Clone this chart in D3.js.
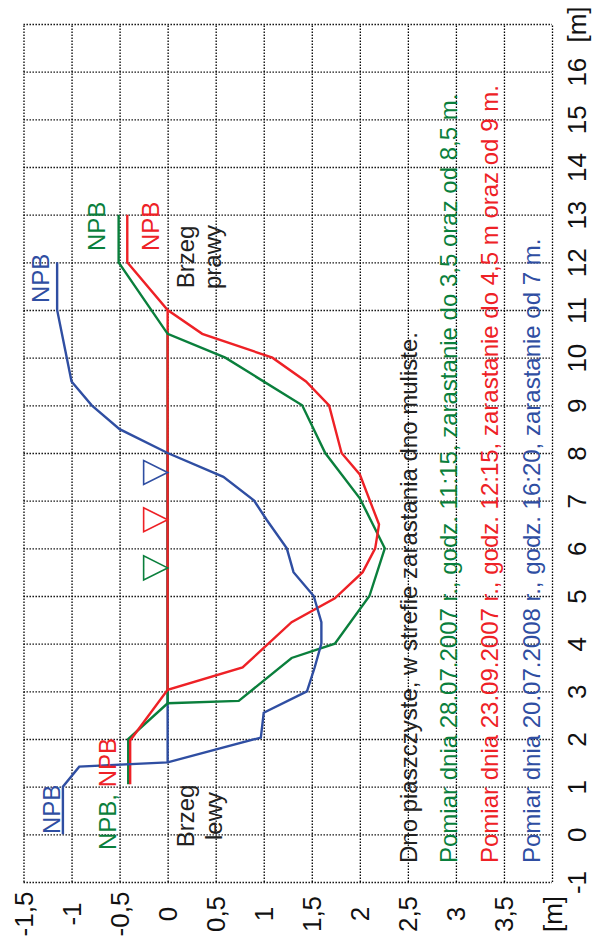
<!DOCTYPE html>
<html><head><meta charset="utf-8">
<script src="https://cdn.jsdelivr.net/npm/d3@7"></script>
<style>
body{margin:0;background:#fff}
svg{display:block}
text{font-family:"Liberation Sans",Arial,Helvetica,sans-serif}
</style>
</head><body>
<svg id="chart" width="593" height="947"></svg>
<script>
// ---- data ----
const depthTicks = [-1.5,-1,-0.5,0,0.5,1,1.5,2,2.5,3,3.5,4];
const depthLabels = ["-1,5","-1","-0,5","0","0,5","1","1,5","2","2,5","3","3,5","[m]"];
const distTicks = [-1,0,1,2,3,4,5,6,7,8,9,10,11,12,13,14,15,16,17];
const distLabels = ["-1","0","1","2","3","4","5","6","7","8","9","10","11","12","13","14","15","16","[m]"];

// profile 28.07.2007 (green)
const greenDist  = [13, 12, 10.5, 10.0, 9.0, 8.0, 7.05, 6.0, 5.0, 4.0, 3.7, 2.8, 2.75, 2.0, 1.05];
const greenDepth = [-0.51, -0.51, 0, 0.6, 1.4, 1.64, 2.0, 2.26, 2.1, 1.74, 1.29, 0.74, 0, -0.41, -0.41];
// profile 23.09.2007 (red)
const redDist  = [13, 12, 11.0, 10.5, 10.0, 9.5, 9.0, 8.0, 7.55, 6.5, 6.0, 5.5, 4.95, 4.45, 3.5, 3.03, 1.97, 1.05];
const redDepth = [-0.42, -0.42, 0, 0.36, 1.09, 1.44, 1.68, 1.81, 2.0, 2.2, 2.16, 2.03, 1.74, 1.29, 0.78, 0, -0.39, -0.39];
// profile 20.07.2008 (blue)
const blueDist  = [12, 11, 9.5, 9.0, 8.5, 8.0, 7.5, 7.0, 6.6, 6.0, 5.5, 5.0, 4.45, 4.0, 3.5, 3.0, 2.55, 2.03, 1.51, 1.42, 1.0, 0];
const blueDepth = [-1.15, -1.15, -1.0, -0.79, -0.5, 0, 0.58, 0.9, 1.03, 1.24, 1.31, 1.52, 1.6, 1.6, 1.53, 1.45, 1.0, 0.97, 0, -0.92, -1.09, -1.09];

// water surface (depth 0) extents [from, to] in distance
const blueWater  = [1.51, 8.0];
const greenWater = [2.75, 10.5];
const redWater   = [3.03, 11.0];
// water level markers (distance of tip)
const markerDist = {blue: 7.59, red: 6.6, green: 5.59};

const legendLines = [
  "Dno piaszczyste, w strefie zarastania dno muliste.",
  "Pomiar dnia 28.07.2007 r., godz. 11:15, zarastanie do 3,5 oraz od 8,5 m.",
  "Pomiar dnia 23.09.2007 r., godz. 12:15, zarastanie do 4,5 m oraz od 9 m.",
  "Pomiar dnia 20.07.2008 r., godz. 16:20, zarastanie od 7 m."
];

// ---- styles ----
const C = {blue:"#2f4ea2", green:"#0a7f3c", red:"#ee2126", black:"#222"};

const svg = d3.select("#chart");
const x = d3.scaleLinear().domain([-1.5,4]).range([23.5,552]);   // depth -> horizontal
const y = d3.scaleLinear().domain([-1,17]).range([882,24]);      // distance -> vertical
const W = 552-23.5, H = 882-24;

// grid via axes
const gx = svg.append("g").attr("transform","translate(0,882)")
  .call(d3.axisBottom(x).tickValues(depthTicks).tickSize(-H).tickFormat(""));
const gy = svg.append("g").attr("transform","translate(23.5,0)")
  .call(d3.axisLeft(y).tickValues(distTicks).tickSize(-W).tickFormat(""));
[gx,gy].forEach(g=>{
  g.select(".domain").remove();
  g.selectAll(".tick line").attr("stroke","#000").attr("stroke-width",1.3).attr("stroke-dasharray","1.4,1.6");
});

// tick labels via axes
const lx = svg.append("g").attr("transform","translate(0,882)")
  .call(d3.axisBottom(x).tickValues(depthTicks).tickSize(0).tickFormat((d,i)=>depthLabels[i]));
const ly = svg.append("g").attr("transform","translate(552,0)")
  .call(d3.axisRight(y).tickValues(distTicks).tickSize(0).tickFormat((d,i)=>distLabels[i]));
[lx,ly].forEach(g=>{ g.select(".domain").remove(); });
lx.selectAll("text").attr("x",0).attr("y",0).attr("dy",null)
  .attr("transform","translate(0,32) rotate(-90)")
  .attr("text-anchor","middle").attr("dominant-baseline","central")
  .attr("font-size",26).attr("font-family","Liberation Sans, Arial, sans-serif").attr("fill","#111");
ly.selectAll("text").attr("x",0).attr("y",0).attr("dy",null)
  .attr("transform","translate(25,0) rotate(-90)")
  .attr("text-anchor","middle").attr("dominant-baseline","central")
  .attr("font-size",26).attr("font-family","Liberation Sans, Arial, sans-serif").attr("fill","#111");

const line = d3.line().x(d=>x(d[1])).y(d=>y(d[0]));
function pts(dist, depth){ return dist.map((d,i)=>[d, depth[i]]); }

// water lines
[[blueWater,C.blue],[greenWater,C.green],[redWater,C.red]].forEach(([w,c])=>{
  svg.append("path").attr("d", line([[w[0],0],[w[1],0]]))
    .attr("fill","none").attr("stroke",c).attr("stroke-width",2.4);
});

// profiles
[[greenDist,greenDepth,C.green],[redDist,redDepth,C.red],[blueDist,blueDepth,C.blue]].forEach(([a,b,c])=>{
  svg.append("path").attr("d", line(pts(a,b)))
    .attr("fill","none").attr("stroke",c).attr("stroke-width",2.4).attr("stroke-linejoin","miter");
});

// water level markers (triangles pointing to the surface)
Object.entries(markerDist).forEach(([k,dd])=>{
  const tx = x(0), ty = y(dd);
  svg.append("path").attr("d", `M${tx},${ty} L${tx-24},${ty-12} L${tx-24},${ty+12} Z`)
    .attr("fill","#fff").attr("stroke",C[k]).attr("stroke-width",1.6);
});

// annotations (rotated text)
function rtext(px, py, str, color, anchor, size){
  return svg.append("text").attr("transform",`translate(${px},${py}) rotate(-90)`)
    .attr("text-anchor",anchor||"start").attr("font-size",size||24).attr("fill",color).text(str);
}
rtext(49, 303, "NPB", C.blue);
rtext(105, 251, "NPB", C.green);
rtext(159, 251, "NPB", C.red);
rtext(194, 257, "Brzeg", C.black, "middle");
rtext(221, 257, "prawy", C.black, "middle");
rtext(60, 834, "NPB", C.blue);
const t2 = svg.append("text").attr("transform","translate(116,850) rotate(-90)").attr("font-size",24);
t2.append("tspan").attr("fill",C.green).text("NPB, ");
t2.append("tspan").attr("fill",C.red).text("NPB");
rtext(194, 816, "Brzeg", C.black, "middle");
rtext(222, 816, "lewy", C.black, "middle");

const legendX = [417, 457, 498, 540];
const legendC = [C.black, C.green, C.red, C.blue];
legendLines.forEach((s,i)=> rtext(legendX[i], 863, s, legendC[i]));
</script>
</body></html>
